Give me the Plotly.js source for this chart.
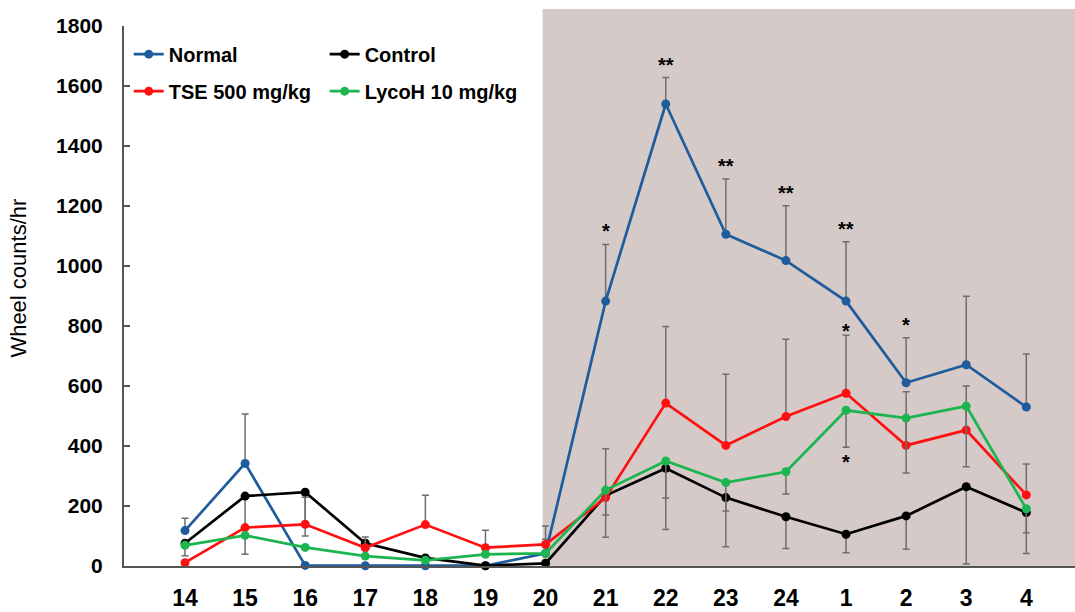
<!DOCTYPE html>
<html>
<head>
<meta charset="utf-8">
<script src="https://cdn.plot.ly/plotly-3.0.1.min.js"></script>
<style>html,body{margin:0;padding:0;background:#fff;}#chart{width:1075px;height:612px;}</style>
</head>
<body>
<div id="chart"></div>
<script>
// ---- data ----
const categories = ['14','15','16','17','18','19','20','21','22','23','24','1','2','3','4'];

const normalVals  = [118, 342, 2, 1, 1, 1, 42, 883, 1540, 1106, 1018, 883, 611, 671, 530];
const normalPlus  = [41, 165, 0, 0, 0, 0, 47, 189, 88, 184, 183, 198, 150, 228, 177];

const controlVals  = [76, 233, 246, 76, 27, 1, 9, 235, 326, 228, 164, 106, 167, 264, 178];
const controlMinus = [42, 194, 146, 0, 0, 0, 0, 139, 204, 164, 106, 62, 111, 257, 136];

const tseVals = [11, 128, 139, 61, 138, 61, 72, 228, 543, 402, 498, 576, 402, 453, 237];
const tsePlus = [0, 0, 90, 36, 98, 58, 61, 163, 255, 237, 258, 193, 179, 147, 103];

const lycoVals  = [69, 102, 62, 33, 19, 39, 42, 253, 350, 278, 314, 519, 493, 533, 191];
const lycoMinus = [0, 0, 0, 0, 0, 0, 0, 83, 123, 95, 74, 123, 183, 202, 80];

const normalSig = ['', '', '', '', '', '', '', '*', '**', '**', '**', '**', '*', '', ''];
const tseSig    = ['', '', '', '', '', '', '', '', '', '', '', '*', '', '', ''];
const lycoSig   = ['', '', '', '', '', '', '', '', '', '', '', '*', '', '', ''];

const yTicks = [0, 200, 400, 600, 800, 1000, 1200, 1400, 1600, 1800];
const darkPhaseStart = '20';

// ---- styles ----
const FONT = 'Liberation Sans, Arial, sans-serif';
const zeros = categories.map(() => 0);
const errStyle = {color: '#6e6e6e', thickness: 1.5, width: 3.5};

function trace(name, vals, plus, minus, color, legend, group) {
  return {
    type: 'scatter', mode: 'lines+markers', name: name,
    x: categories, y: vals,
    line: {color: color, width: 2.7},
    marker: {color: color, size: 9},
    error_y: Object.assign({type: 'data', symmetric: false, array: plus, arrayminus: minus, visible: true}, errStyle),
    legend: legend, legendgroup: group,
    cliponaxis: false
  };
}

const data = [
  trace('Normal', normalVals, normalPlus, zeros, '#1f5c9c', 'legend', 'g1'),
  trace('Control', controlVals, zeros, controlMinus, '#000000', 'legend2', 'g2'),
  trace('TSE 500 mg/kg', tseVals, tsePlus, zeros, '#ff1010', 'legend', 'g3'),
  trace('LycoH 10 mg/kg', lycoVals, zeros, lycoMinus, '#1cb550', 'legend2', 'g4')
];

const annotations = [];
const starFont = {family: FONT, size: 20, color: '#000', weight: 'bold'};
categories.forEach((c, i) => {
  if (normalSig[i]) annotations.push({x: i, y: normalVals[i] + normalPlus[i], text: normalSig[i], showarrow: false, yanchor: 'middle', yshift: 13, font: starFont});
  if (tseSig[i]) annotations.push({x: i, y: tseVals[i] + tsePlus[i], text: tseSig[i], showarrow: false, yanchor: 'middle', yshift: 4, font: starFont});
  if (lycoSig[i]) annotations.push({x: i, y: lycoVals[i] - lycoMinus[i], text: lycoSig[i], showarrow: false, yanchor: 'middle', yshift: -15, font: starFont});
});
annotations.push({
  xref: 'paper', yref: 'paper', x: -0.111, y: 0.533, xanchor: 'center', yanchor: 'middle',
  text: 'Wheel counts/hr', textangle: -90, showarrow: false,
  font: {family: FONT, size: 22, color: '#000'}
});

const legendBase = {
  orientation: 'v', yanchor: 'top', y: 0.984, xanchor: 'left',
  bgcolor: 'rgba(0,0,0,0)', borderwidth: 0, tracegroupgap: 8,
  font: {family: FONT, size: 20, color: '#000', weight: 'bold'}
};

const layout = {
  width: 1075, height: 612,
  margin: {l: 124, r: 0, t: 26, b: 46},
  paper_bgcolor: '#ffffff', plot_bgcolor: '#ffffff',
  font: {family: FONT, color: '#000'},
  showlegend: true,
  legend: Object.assign({x: 0.005}, legendBase),
  legend2: Object.assign({x: 0.211}, legendBase),
  xaxis: {
    type: 'category', range: [-1.015, 14.81],
    showgrid: false, zeroline: false,
    showline: true, linecolor: '#555555', linewidth: 2,
    ticks: '', ticklabelstandoff: 10,
    tickfont: {family: FONT, size: 23, color: '#000', weight: 'bold'}
  },
  yaxis: {
    range: [0, 1800], tickvals: yTicks,
    showgrid: false, zeroline: false,
    showline: true, linecolor: '#555555', linewidth: 2,
    ticks: 'inside', ticklen: 6, tickwidth: 1.5, tickcolor: '#555555',
    ticklabelstandoff: 15,
    tickfont: {family: FONT, size: 21, color: '#000', weight: 'bold'}
  },
  shapes: [{
    type: 'rect', layer: 'below', xref: 'x', yref: 'paper',
    x0: categories.indexOf(darkPhaseStart) - 0.05, x1: 14.81, y0: 0, y1: 1.0315,
    fillcolor: '#d6cac9', line: {width: 0}
  }],
  annotations: annotations
};

Plotly.newPlot('chart', data, layout, {displayModeBar: false, staticPlot: true});
</script>
</body>
</html>
